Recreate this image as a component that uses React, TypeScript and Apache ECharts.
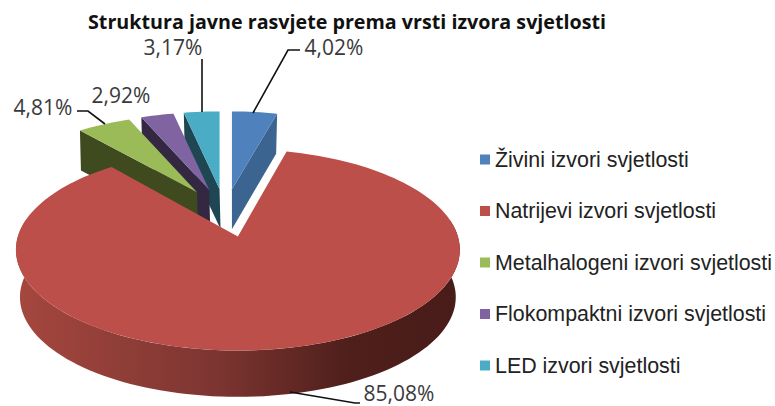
import React, { useEffect, useRef } from "react";
import * as echarts from "echarts";

const chartTitle = "Struktura javne rasvjete prema vrsti izvora svjetlosti";
const categories = [
  "Živini izvori svjetlosti",
  "Natrijevi izvori svjetlosti",
  "Metalhalogeni izvori svjetlosti",
  "Flokompaktni izvori svjetlosti",
  "LED izvori svjetlosti",
];
const values = [4.02, 85.08, 4.81, 2.92, 3.17];
const topColors = ["#4f81bd", "#bd4f4b", "#9bbb59", "#8064a2", "#4bacc6"];
const wallColors = ["#3b6590", "#7a3330", "#3f4a1f", "#332742", "#1f4753"];
const drawOrder = [0, 4, 3, 2, 1];

// label anchor and leader geometry, per slice
const labelAt = [[334, 47], [399, 393], [43, 107], [121, 95], [173, 47]];
const leaders = [
  [[253, 113], [288, 50], [300, 50]],
  [[290, 392], [355, 403], [360, 403]],
  [[105, 124], [88, 111], [77, 111]],
  [],
  [[202, 112], [202, 59]],
];

const TOTAL = values.reduce((a, b) => a + b, 0);
const D2R = Math.PI / 180;
const K = 0.132;
const CX = 225;
const CY = 213;

function angles(i: number) {
  const before = values.slice(0, i).reduce((a, b) => a + b, 0);
  return [(before / TOTAL) * 360, ((before + values[i]) / TOTAL) * 360];
}

function project(deg: number, vx: number, vy: number, a: number, b: number) {
  const u = Math.sin(deg * D2R);
  const v = Math.cos(deg * D2R);
  const s = 1 / (1 + K * v);
  return [vx + a * u * s, vy - b * v * s];
}

function arc(from: number, to: number, vx: number, vy: number, a: number, b: number) {
  const n = Math.max(2, Math.ceil(Math.abs(to - from) / 2));
  const pts: number[][] = [];
  for (let j = 0; j <= n; j++) pts.push(project(from + ((to - from) * j) / n, vx, vy, a, b));
  return pts;
}

const poly = (points: number[][], fill: any) => ({
  type: "polygon",
  shape: { points },
  style: { fill },
  silent: true,
});

function renderSlice(i: number) {
  const [start, end] = angles(i);
  const mid = (start + end) / 2;
  const isMain = i === 1;
  const ex = isMain ? 60 : 55;
  const vx = CX + ex * Math.sin(mid * D2R);
  const vy = CY - 24 * Math.cos(mid * D2R);
  const children: any[] = [];
  if (isMain) {
    const a = 220;
    const b = 99;
    const aB = 216;
    const bB = 98;
    const vyB = vy + 47.5;
    const topOuter = arc(80, 280, vx, vy, a, b);
    const botOuter = arc(280, 80, vx, vyB, aB, bB);
    children.push(
      poly(
        topOuter.concat(botOuter),
        new echarts.graphic.LinearGradient(0, 0, 1, 0, [
          { offset: 0, color: "#a5473f" },
          { offset: 0.45, color: "#7d3531" },
          { offset: 0.75, color: "#4f1f1b" },
          { offset: 1, color: "#481c19" },
        ])
      )
    );
    children.push(poly([[vx, vy]].concat(arc(start, end, vx, vy, a, b)), topColors[i]));
  } else {
    const a = 204;
    const b = 88;
    const h = 40;
    const edgeDeg = i === 0 ? end : start;
    const outer = project(edgeDeg, vx, vy, a, b);
    children.push(
      poly(
        [[vx, vy], outer, [outer[0] + (i === 0 ? -1 : 1), outer[1] + h], [vx + (i === 0 ? 0 : 1), vy + h]],
        wallColors[i]
      )
    );
    children.push(poly([[vx, vy]].concat(arc(start, end, vx, vy, a, b)), topColors[i]));
  }
  if (leaders[i].length) {
    children.push({
      type: "polyline",
      shape: { points: leaders[i] },
      style: { stroke: "#111", lineWidth: 1.6, fill: "none" },
      silent: true,
    });
  }
  children.push({
    type: "text",
    silent: true,
    style: {
      x: labelAt[i][0],
      y: labelAt[i][1],
      text: values[i].toFixed(2).replace(".", ",") + "%",
      fill: "#3a3a3a",
      fontSize: 21,
      fontFamily: "Open Sans",
      align: "center",
      verticalAlign: "middle",
    },
  });
  return { type: "group", children };
}

export default function App() {
  const ref = useRef<HTMLDivElement>(null);
  useEffect(() => {
    const chart = echarts.init(ref.current!, undefined, { renderer: "svg", width: 775, height: 406 });
    chart.setOption({
      animation: false,
      backgroundColor: "#fff",
      title: {
        text: chartTitle,
        left: 83,
        top: 6,
        textStyle: { fontFamily: "Open Sans", fontWeight: "bold", fontSize: 19.7, lineHeight: 20, color: "#111" },
      },
      legend: {
        orient: "vertical",
        left: 475,
        top: 144,
        itemWidth: 10,
        itemHeight: 10,
        itemGap: 30.5,
        icon: "rect",
        selectedMode: false,
        data: categories,
        textStyle: { fontFamily: "Liberation Sans", fontSize: 21.4, color: "#222", lineHeight: 21 },
      },
      series: drawOrder.map((i, order) => ({
        type: "custom",
        name: categories[i],
        coordinateSystem: "none",
        z: 2 + order,
        silent: true,
        itemStyle: { color: topColors[i] },
        data: [values[i]],
        renderItem: () => renderSlice(i),
      })),
    });
    return () => chart.dispose();
  }, []);
  return <div ref={ref} style={{ position: "absolute", left: 0, top: 0, width: 775, height: 406 }} />;
}
